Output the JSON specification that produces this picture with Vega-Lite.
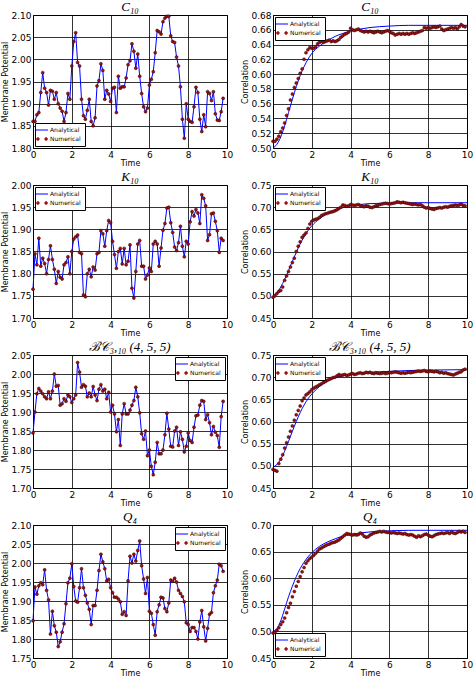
{
"$schema":"https://vega.github.io/schema/vega-lite/v6.json",
"padding":{"left":1,"top":0,"right":0,"bottom":0},
"background":"white",
"config":{
 "font":"DejaVu Sans",
 "view":{"stroke":"#000","strokeWidth":1},
 "axis":{"grid":true,"gridColor":"#000","gridOpacity":1,"gridWidth":0.8,"domain":false,"ticks":false,"labelFont":"DejaVu Sans","labelFontSize":9,"labelColor":"#000","titleFont":"DejaVu Sans","titleFontSize":8,"titleFontWeight":"normal","titleColor":"#000","labelPadding":2,"labelFlush":false,"labelOverlap":false,"tickCount":100},
 "axisX":{"titlePadding":0},
 "axisY":{"titlePadding":1},
 "title":{"font":"Liberation Serif","fontStyle":"italic","fontSize":13,"fontWeight":"normal","offset":-3,"color":"#000"},
 "legend":{"fillColor":"#fff","strokeColor":"#000","padding":4,"offset":2,"labelFont":"DejaVu Sans","labelFontSize":6,"labelColor":"#000","symbolSize":150,"rowPadding":3,"labelOffset":5,"cornerRadius":0}
},
"datasets":{
"left":[
{"t":0,"c":1.86,"k":1.765,"b":1.845,"q":1.848},
{"t":0.1,"c":1.86,"k":1.845,"b":1.90,"q":1.937},
{"t":0.2,"c":1.875,"k":1.82,"b":1.948,"q":1.918},
{"t":0.3,"c":1.88,"k":1.88,"b":1.962,"q":1.94},
{"t":0.4,"c":1.925,"k":1.817,"b":1.955,"q":1.948},
{"t":0.5,"c":1.97,"k":1.835,"b":1.948,"q":1.943},
{"t":0.6,"c":1.935,"k":1.823,"b":1.94,"q":1.982},
{"t":0.7,"c":1.925,"k":1.80,"b":1.935,"q":1.928},
{"t":0.8,"c":1.897,"k":1.832,"b":1.953,"q":1.903},
{"t":0.9,"c":1.93,"k":1.863,"b":1.935,"q":1.813},
{"t":1.0,"c":1.928,"k":1.832,"b":1.955,"q":1.873},
{"t":1.1,"c":1.91,"k":1.81,"b":2.00,"q":1.835},
{"t":1.2,"c":1.925,"k":1.778,"b":1.968,"q":1.818},
{"t":1.3,"c":1.90,"k":1.805,"b":1.97,"q":1.78},
{"t":1.4,"c":1.89,"k":1.792,"b":1.918,"q":1.793},
{"t":1.5,"c":1.883,"k":1.788,"b":1.922,"q":1.818},
{"t":1.6,"c":1.86,"k":1.82,"b":1.935,"q":1.84},
{"t":1.7,"c":1.88,"k":1.825,"b":1.928,"q":1.893},
{"t":1.8,"c":1.923,"k":1.838,"b":1.945,"q":1.948},
{"t":1.9,"c":1.91,"k":1.80,"b":1.94,"q":1.96},
{"t":2.0,"c":1.985,"k":1.85,"b":1.925,"q":1.998},
{"t":2.1,"c":2.04,"k":1.878,"b":1.935,"q":1.938},
{"t":2.2,"c":2.06,"k":1.883,"b":1.945,"q":1.90},
{"t":2.3,"c":1.993,"k":1.887,"b":2.03,"q":1.897},
{"t":2.4,"c":1.985,"k":1.848,"b":2.005,"q":1.935},
{"t":2.5,"c":1.91,"k":1.845,"b":1.965,"q":1.985},
{"t":2.6,"c":1.873,"k":1.752,"b":1.972,"q":1.935},
{"t":2.7,"c":1.865,"k":1.748,"b":1.968,"q":1.915},
{"t":2.8,"c":1.885,"k":1.80,"b":1.94,"q":1.895},
{"t":2.9,"c":1.91,"k":1.81,"b":1.95,"q":1.878},
{"t":3.0,"c":1.86,"k":1.793,"b":1.94,"q":1.838},
{"t":3.1,"c":1.85,"k":1.815,"b":1.967,"q":1.888},
{"t":3.2,"c":1.868,"k":1.808,"b":1.945,"q":1.888},
{"t":3.3,"c":1.94,"k":1.845,"b":1.93,"q":1.928},
{"t":3.4,"c":1.952,"k":1.848,"b":1.96,"q":1.98},
{"t":3.5,"c":1.99,"k":1.897,"b":1.972,"q":2.023},
{"t":3.6,"c":1.975,"k":1.89,"b":1.955,"q":2.003},
{"t":3.7,"c":1.91,"k":1.862,"b":1.96,"q":1.985},
{"t":3.8,"c":1.93,"k":1.897,"b":1.935,"q":1.953},
{"t":3.9,"c":1.922,"k":1.92,"b":1.952,"q":1.957},
{"t":4.0,"c":1.905,"k":1.915,"b":1.90,"q":1.935},
{"t":4.1,"c":1.935,"k":1.873,"b":1.918,"q":1.922},
{"t":4.2,"c":1.937,"k":1.843,"b":1.895,"q":1.91},
{"t":4.3,"c":1.88,"k":1.812,"b":1.848,"q":1.91},
{"t":4.4,"c":1.962,"k":1.85,"b":1.88,"q":1.905},
{"t":4.5,"c":1.935,"k":1.857,"b":1.812,"q":1.898},
{"t":4.6,"c":1.938,"k":1.822,"b":1.895,"q":1.865},
{"t":4.7,"c":1.938,"k":1.857,"b":1.922,"q":1.872},
{"t":4.8,"c":1.958,"k":1.82,"b":1.895,"q":1.862},
{"t":4.9,"c":1.988,"k":1.828,"b":1.895,"q":1.953},
{"t":5.0,"c":1.997,"k":1.865,"b":1.905,"q":2.018},
{"t":5.1,"c":2.035,"k":1.767,"b":1.918,"q":2.0},
{"t":5.2,"c":2.018,"k":1.745,"b":1.93,"q":2.023},
{"t":5.3,"c":1.98,"k":1.805,"b":1.965,"q":2.005},
{"t":5.4,"c":2.012,"k":1.867,"b":1.94,"q":2.033},
{"t":5.5,"c":1.962,"k":1.875,"b":1.898,"q":2.058},
{"t":5.6,"c":1.923,"k":1.817,"b":1.843,"q":1.993},
{"t":5.7,"c":1.893,"k":1.817,"b":1.828,"q":1.958},
{"t":5.8,"c":1.882,"k":1.788,"b":1.85,"q":1.92},
{"t":5.9,"c":1.89,"k":1.797,"b":1.785,"q":1.962},
{"t":6.0,"c":1.942,"k":1.813,"b":1.80,"q":1.873},
{"t":6.1,"c":1.955,"k":1.805,"b":1.757,"q":1.868},
{"t":6.2,"c":1.972,"k":1.867,"b":1.735,"q":1.838},
{"t":6.3,"c":2.015,"k":1.873,"b":1.768,"q":1.81},
{"t":6.4,"c":2.065,"k":1.867,"b":1.82,"q":1.872},
{"t":6.5,"c":2.062,"k":1.817,"b":1.79,"q":1.89},
{"t":6.6,"c":2.057,"k":1.858,"b":1.79,"q":1.91},
{"t":6.7,"c":2.085,"k":1.898,"b":1.80,"q":1.908},
{"t":6.8,"c":2.093,"k":1.913,"b":1.84,"q":1.88},
{"t":6.9,"c":2.097,"k":1.948,"b":1.897,"q":1.872},
{"t":7.0,"c":2.097,"k":1.95,"b":1.855,"q":1.895},
{"t":7.1,"c":2.053,"k":1.915,"b":1.81,"q":1.955},
{"t":7.2,"c":2.04,"k":1.893,"b":1.808,"q":1.952},
{"t":7.3,"c":2.038,"k":1.86,"b":1.85,"q":1.96},
{"t":7.4,"c":2.005,"k":1.852,"b":1.86,"q":1.95},
{"t":7.5,"c":1.985,"k":1.87,"b":1.812,"q":1.928},
{"t":7.6,"c":1.938,"k":1.907,"b":1.848,"q":1.92},
{"t":7.7,"c":1.865,"k":1.862,"b":1.828,"q":1.912},
{"t":7.8,"c":1.822,"k":1.838,"b":1.795,"q":1.898},
{"t":7.9,"c":1.90,"k":1.873,"b":1.81,"q":1.843},
{"t":8.0,"c":1.865,"k":1.867,"b":1.845,"q":1.838},
{"t":8.1,"c":1.86,"k":1.917,"b":1.825,"q":1.82},
{"t":8.2,"c":1.858,"k":1.94,"b":1.82,"q":1.83},
{"t":8.3,"c":1.893,"k":1.93,"b":1.86,"q":1.83},
{"t":8.4,"c":1.937,"k":1.945,"b":1.89,"q":1.82},
{"t":8.5,"c":1.925,"k":1.937,"b":1.892,"q":1.80},
{"t":8.6,"c":1.865,"k":1.913,"b":1.918,"q":1.845},
{"t":8.7,"c":1.837,"k":1.978,"b":1.93,"q":1.875},
{"t":8.8,"c":1.875,"k":1.97,"b":1.928,"q":1.832},
{"t":8.9,"c":1.848,"k":1.953,"b":1.88,"q":1.795},
{"t":9.0,"c":1.927,"k":1.875,"b":1.893,"q":1.828},
{"t":9.1,"c":1.923,"k":1.888,"b":1.872,"q":1.865},
{"t":9.2,"c":1.907,"k":1.935,"b":1.84,"q":1.87},
{"t":9.3,"c":1.927,"k":1.937,"b":1.862,"q":1.922},
{"t":9.4,"c":1.877,"k":1.918,"b":1.847,"q":1.94},
{"t":9.5,"c":1.863,"k":1.897,"b":1.838,"q":1.955},
{"t":9.6,"c":1.862,"k":1.848,"b":1.807,"q":1.997},
{"t":9.7,"c":1.882,"k":1.88,"b":1.888,"q":1.993},
{"t":9.8,"c":1.912,"k":1.875,"b":1.928,"q":1.978}
],
"right":[
{"t":0,"c":0.509,"k":0.497,"b":0.492,"q":0.497},
{"t":0.1,"c":0.509,"k":0.500,"b":0.490,"q":0.498},
{"t":0.2,"c":0.512,"k":0.505,"b":0.488,"q":0.502},
{"t":0.3,"c":0.516,"k":0.510,"b":0.505,"q":0.507},
{"t":0.4,"c":0.522,"k":0.512,"b":0.515,"q":0.513},
{"t":0.5,"c":0.527,"k":0.520,"b":0.525,"q":0.518},
{"t":0.6,"c":0.534,"k":0.535,"b":0.540,"q":0.525},
{"t":0.7,"c":0.544,"k":0.545,"b":0.552,"q":0.535},
{"t":0.8,"c":0.553,"k":0.555,"b":0.565,"q":0.545},
{"t":0.9,"c":0.565,"k":0.565,"b":0.578,"q":0.553},
{"t":1.0,"c":0.573,"k":0.575,"b":0.590,"q":0.565},
{"t":1.1,"c":0.582,"k":0.585,"b":0.603,"q":0.575},
{"t":1.2,"c":0.588,"k":0.600,"b":0.615,"q":0.585},
{"t":1.3,"c":0.594,"k":0.612,"b":0.625,"q":0.594},
{"t":1.4,"c":0.601,"k":0.622,"b":0.635,"q":0.603},
{"t":1.5,"c":0.607,"k":0.632,"b":0.647,"q":0.612},
{"t":1.6,"c":0.620,"k":0.637,"b":0.653,"q":0.620},
{"t":1.7,"c":0.629,"k":0.642,"b":0.660,"q":0.628},
{"t":1.8,"c":0.633,"k":0.652,"b":0.663,"q":0.633},
{"t":1.9,"c":0.636,"k":0.662,"b":0.667,"q":0.637},
{"t":2.0,"c":0.635,"k":0.668,"b":0.672,"q":0.640},
{"t":2.1,"c":0.635,"k":0.671,"b":0.675,"q":0.643},
{"t":2.2,"c":0.637,"k":0.673,"b":0.678,"q":0.647},
{"t":2.3,"c":0.641,"k":0.674,"b":0.680,"q":0.651},
{"t":2.4,"c":0.643,"k":0.677,"b":0.683,"q":0.655},
{"t":2.5,"c":0.644,"k":0.681,"b":0.685,"q":0.657},
{"t":2.6,"c":0.643,"k":0.683,"b":0.688,"q":0.659},
{"t":2.7,"c":0.644,"k":0.685,"b":0.690,"q":0.661},
{"t":2.8,"c":0.645,"k":0.686,"b":0.693,"q":0.663},
{"t":2.9,"c":0.646,"k":0.688,"b":0.695,"q":0.664},
{"t":3.0,"c":0.644,"k":0.689,"b":0.697,"q":0.666},
{"t":3.1,"c":0.645,"k":0.690,"b":0.699,"q":0.667},
{"t":3.2,"c":0.644,"k":0.692,"b":0.700,"q":0.668},
{"t":3.3,"c":0.645,"k":0.694,"b":0.703,"q":0.670},
{"t":3.4,"c":0.647,"k":0.697,"b":0.706,"q":0.672},
{"t":3.5,"c":0.650,"k":0.700,"b":0.704,"q":0.675},
{"t":3.6,"c":0.652,"k":0.705,"b":0.705,"q":0.678},
{"t":3.7,"c":0.654,"k":0.704,"b":0.706,"q":0.681},
{"t":3.8,"c":0.655,"k":0.702,"b":0.704,"q":0.684},
{"t":3.9,"c":0.657,"k":0.703,"b":0.705,"q":0.683},
{"t":4.0,"c":0.662,"k":0.706,"b":0.707,"q":0.682},
{"t":4.1,"c":0.660,"k":0.705,"b":0.708,"q":0.681},
{"t":4.2,"c":0.659,"k":0.704,"b":0.706,"q":0.682},
{"t":4.3,"c":0.660,"k":0.705,"b":0.707,"q":0.681},
{"t":4.4,"c":0.661,"k":0.706,"b":0.709,"q":0.682},
{"t":4.5,"c":0.659,"k":0.704,"b":0.710,"q":0.685},
{"t":4.6,"c":0.658,"k":0.702,"b":0.708,"q":0.683},
{"t":4.7,"c":0.657,"k":0.701,"b":0.709,"q":0.679},
{"t":4.8,"c":0.658,"k":0.703,"b":0.711,"q":0.677},
{"t":4.9,"c":0.657,"k":0.702,"b":0.710,"q":0.678},
{"t":5.0,"c":0.658,"k":0.700,"b":0.711,"q":0.681},
{"t":5.1,"c":0.657,"k":0.699,"b":0.709,"q":0.683},
{"t":5.2,"c":0.656,"k":0.701,"b":0.708,"q":0.685},
{"t":5.3,"c":0.657,"k":0.703,"b":0.710,"q":0.686},
{"t":5.4,"c":0.658,"k":0.704,"b":0.709,"q":0.687},
{"t":5.5,"c":0.657,"k":0.706,"b":0.708,"q":0.688},
{"t":5.6,"c":0.656,"k":0.707,"b":0.709,"q":0.687},
{"t":5.7,"c":0.657,"k":0.708,"b":0.710,"q":0.688},
{"t":5.8,"c":0.658,"k":0.709,"b":0.708,"q":0.687},
{"t":5.9,"c":0.659,"k":0.708,"b":0.709,"q":0.686},
{"t":6.0,"c":0.658,"k":0.707,"b":0.711,"q":0.686},
{"t":6.1,"c":0.656,"k":0.708,"b":0.710,"q":0.685},
{"t":6.2,"c":0.655,"k":0.709,"b":0.711,"q":0.686},
{"t":6.3,"c":0.653,"k":0.710,"b":0.712,"q":0.685},
{"t":6.4,"c":0.654,"k":0.712,"b":0.711,"q":0.684},
{"t":6.5,"c":0.655,"k":0.711,"b":0.710,"q":0.685},
{"t":6.6,"c":0.654,"k":0.710,"b":0.709,"q":0.684},
{"t":6.7,"c":0.655,"k":0.711,"b":0.710,"q":0.683},
{"t":6.8,"c":0.654,"k":0.710,"b":0.709,"q":0.684},
{"t":6.9,"c":0.655,"k":0.709,"b":0.710,"q":0.682},
{"t":7.0,"c":0.654,"k":0.708,"b":0.711,"q":0.681},
{"t":7.1,"c":0.655,"k":0.707,"b":0.710,"q":0.682},
{"t":7.2,"c":0.656,"k":0.706,"b":0.711,"q":0.681},
{"t":7.3,"c":0.655,"k":0.707,"b":0.712,"q":0.679},
{"t":7.4,"c":0.656,"k":0.706,"b":0.713,"q":0.677},
{"t":7.5,"c":0.657,"k":0.705,"b":0.714,"q":0.680},
{"t":7.6,"c":0.658,"k":0.706,"b":0.713,"q":0.678},
{"t":7.7,"c":0.659,"k":0.703,"b":0.714,"q":0.680},
{"t":7.8,"c":0.663,"k":0.700,"b":0.715,"q":0.682},
{"t":7.9,"c":0.662,"k":0.698,"b":0.713,"q":0.683},
{"t":8.0,"c":0.663,"k":0.699,"b":0.712,"q":0.681},
{"t":8.1,"c":0.662,"k":0.697,"b":0.714,"q":0.679},
{"t":8.2,"c":0.663,"k":0.696,"b":0.713,"q":0.678},
{"t":8.3,"c":0.664,"k":0.695,"b":0.712,"q":0.680},
{"t":8.4,"c":0.663,"k":0.697,"b":0.713,"q":0.682},
{"t":8.5,"c":0.664,"k":0.698,"b":0.712,"q":0.683},
{"t":8.6,"c":0.665,"k":0.699,"b":0.710,"q":0.684},
{"t":8.7,"c":0.661,"k":0.698,"b":0.711,"q":0.685},
{"t":8.8,"c":0.659,"k":0.700,"b":0.709,"q":0.684},
{"t":8.9,"c":0.660,"k":0.701,"b":0.710,"q":0.685},
{"t":9.0,"c":0.661,"k":0.700,"b":0.708,"q":0.686},
{"t":9.1,"c":0.662,"k":0.702,"b":0.707,"q":0.684},
{"t":9.2,"c":0.663,"k":0.703,"b":0.706,"q":0.687},
{"t":9.3,"c":0.662,"k":0.704,"b":0.705,"q":0.685},
{"t":9.4,"c":0.663,"k":0.705,"b":0.707,"q":0.684},
{"t":9.5,"c":0.661,"k":0.704,"b":0.709,"q":0.686},
{"t":9.6,"c":0.664,"k":0.705,"b":0.711,"q":0.688},
{"t":9.7,"c":0.667,"k":0.707,"b":0.712,"q":0.687},
{"t":9.8,"c":0.665,"k":0.704,"b":0.716,"q":0.688},
{"t":9.9,"c":0.664,"k":0.703,"b":0.718,"q":0.686}
],
"ana":[
{"t":0,"c":0.500,"k":0.500,"b":0.497,"q":0.500},
{"t":0.2,"c":0.505,"k":0.507,"b":0.503,"q":0.505},
{"t":0.4,"c":0.515,"k":0.520,"b":0.515,"q":0.520},
{"t":0.6,"c":0.530,"k":0.537,"b":0.533,"q":0.542},
{"t":0.8,"c":0.548,"k":0.557,"b":0.555,"q":0.565},
{"t":1.0,"c":0.566,"k":0.578,"b":0.578,"q":0.585},
{"t":1.2,"c":0.583,"k":0.598,"b":0.600,"q":0.603},
{"t":1.4,"c":0.598,"k":0.617,"b":0.620,"q":0.618},
{"t":1.6,"c":0.610,"k":0.633,"b":0.637,"q":0.630},
{"t":1.8,"c":0.620,"k":0.647,"b":0.651,"q":0.640},
{"t":2.0,"c":0.628,"k":0.658,"b":0.662,"q":0.648},
{"t":2.4,"c":0.638,"k":0.674,"b":0.679,"q":0.660},
{"t":2.8,"c":0.645,"k":0.686,"b":0.691,"q":0.668},
{"t":3.2,"c":0.651,"k":0.694,"b":0.699,"q":0.674},
{"t":3.6,"c":0.655,"k":0.699,"b":0.703,"q":0.679},
{"t":4.0,"c":0.658,"k":0.703,"b":0.706,"q":0.682},
{"t":4.5,"c":0.661,"k":0.706,"b":0.709,"q":0.685},
{"t":5.0,"c":0.663,"k":0.708,"b":0.711,"q":0.687},
{"t":6.0,"c":0.665,"k":0.709,"b":0.713,"q":0.689},
{"t":7.0,"c":0.666,"k":0.710,"b":0.715,"q":0.690},
{"t":8.0,"c":0.666,"k":0.710,"b":0.716,"q":0.690},
{"t":10.0,"c":0.666,"k":0.710,"b":0.717,"q":0.690}
]
},
"columns":2,
"spacing":{"row":37,"column":46},
"bounds":"flush",
"resolve":{"scale":{"x":"independent","y":"independent","color":"independent"},"legend":{"color":"independent"}},
"concat":[
 {"width":194,"height":133,"title":"C₁₀","data":{"name":"left"},
  "layer":[
   {"mark":{"type":"line","strokeWidth":1},"encoding":{
     "x":{"field":"t","type":"quantitative","scale":{"domain":[0,10]},"axis":{"values":[0,2,4,6,8,10],"tickCount":100,"format":"d","title":"Time"}},
     "y":{"field":"c","type":"quantitative","scale":{"domain":[1.8,2.1],"nice":false,"zero":false},"axis":{"values":[1.8,1.85,1.9,1.95,2.0,2.05,2.1],"tickCount":100,"format":".2f","title":"Membrane Potential"}},
     "color":{"datum":"Analytical","type":"nominal","scale":{"domain":["Analytical","Numerical"],"range":["#0000ff","#a01010"]},
      "legend":{"title":null,"orient":"bottom-left","encode":{"symbols":{"update":{"shape":{"signal":"datum.value === 'Analytical' ? 'stroke' : 'M-0.92,0a0.25,0.25 0 1,0 0.5,0a0.25,0.25 0 1,0 -0.5,0M0.42,0a0.25,0.25 0 1,0 0.5,0a0.25,0.25 0 1,0 -0.5,0'"},"fill":{"signal":"datum.value === 'Analytical' ? 'transparent' : '#a01010'"},"stroke":{"signal":"datum.value === 'Analytical' ? '#0000ff' : '#300000'"},"strokeWidth":{"signal":"datum.value === 'Analytical' ? 1 : 0.5"},"opacity":{"value":1}}}}}}}},
   {"mark":{"type":"point","filled":true,"size":9,"stroke":"#300000","strokeWidth":0.5,"opacity":1},"encoding":{
     "x":{"field":"t","type":"quantitative"},"y":{"field":"c","type":"quantitative"},
     "color":{"datum":"Numerical","type":"nominal"}}}
  ]},
 {"width":194,"height":133,"title":"C₁₀",
  "layer":[
   {"data":{"name":"ana"},"mark":{"type":"line","strokeWidth":1,"interpolate":"monotone"},"encoding":{
     "x":{"field":"t","type":"quantitative","scale":{"domain":[0,10]},"axis":{"values":[0,2,4,6,8,10],"tickCount":100,"format":"d","title":"Time"}},
     "y":{"field":"c","type":"quantitative","scale":{"domain":[0.5,0.68],"nice":false,"zero":false},"axis":{"values":[0.5,0.52,0.54,0.56,0.58,0.6,0.62,0.64,0.66,0.68],"tickCount":100,"format":".2f","title":"Correlation"}},
     "color":{"datum":"Analytical","type":"nominal","scale":{"domain":["Analytical","Numerical"],"range":["#0000ff","#a01010"]},
      "legend":{"title":null,"orient":"top-left","encode":{"symbols":{"update":{"shape":{"signal":"datum.value === 'Analytical' ? 'stroke' : 'M-0.92,0a0.25,0.25 0 1,0 0.5,0a0.25,0.25 0 1,0 -0.5,0M0.42,0a0.25,0.25 0 1,0 0.5,0a0.25,0.25 0 1,0 -0.5,0'"},"fill":{"signal":"datum.value === 'Analytical' ? 'transparent' : '#a01010'"},"stroke":{"signal":"datum.value === 'Analytical' ? '#0000ff' : '#300000'"},"strokeWidth":{"signal":"datum.value === 'Analytical' ? 1 : 0.5"},"opacity":{"value":1}}}}}}}},
   {"data":{"name":"right"},"mark":{"type":"point","filled":true,"size":9,"stroke":"#300000","strokeWidth":0.5,"opacity":1},"encoding":{
     "x":{"field":"t","type":"quantitative"},"y":{"field":"c","type":"quantitative"},
     "color":{"datum":"Numerical","type":"nominal"}}}
  ]},
 {"width":194,"height":133,"title":"K₁₀","data":{"name":"left"},
  "layer":[
   {"mark":{"type":"line","strokeWidth":1},"encoding":{
     "x":{"field":"t","type":"quantitative","scale":{"domain":[0,10]},"axis":{"values":[0,2,4,6,8,10],"tickCount":100,"format":"d","title":"Time"}},
     "y":{"field":"k","type":"quantitative","scale":{"domain":[1.7,2.0],"nice":false,"zero":false},"axis":{"values":[1.7,1.75,1.8,1.85,1.9,1.95,2.0],"tickCount":100,"format":".2f","title":"Membrane Potential"}},
     "color":{"datum":"Analytical","type":"nominal","scale":{"domain":["Analytical","Numerical"],"range":["#0000ff","#a01010"]},
      "legend":{"title":null,"orient":"top-left","encode":{"symbols":{"update":{"shape":{"signal":"datum.value === 'Analytical' ? 'stroke' : 'M-0.92,0a0.25,0.25 0 1,0 0.5,0a0.25,0.25 0 1,0 -0.5,0M0.42,0a0.25,0.25 0 1,0 0.5,0a0.25,0.25 0 1,0 -0.5,0'"},"fill":{"signal":"datum.value === 'Analytical' ? 'transparent' : '#a01010'"},"stroke":{"signal":"datum.value === 'Analytical' ? '#0000ff' : '#300000'"},"strokeWidth":{"signal":"datum.value === 'Analytical' ? 1 : 0.5"},"opacity":{"value":1}}}}}}}},
   {"mark":{"type":"point","filled":true,"size":9,"stroke":"#300000","strokeWidth":0.5,"opacity":1},"encoding":{
     "x":{"field":"t","type":"quantitative"},"y":{"field":"k","type":"quantitative"},
     "color":{"datum":"Numerical","type":"nominal"}}}
  ]},
 {"width":194,"height":133,"title":"K₁₀",
  "layer":[
   {"data":{"name":"ana"},"mark":{"type":"line","strokeWidth":1,"interpolate":"monotone"},"encoding":{
     "x":{"field":"t","type":"quantitative","scale":{"domain":[0,10]},"axis":{"values":[0,2,4,6,8,10],"tickCount":100,"format":"d","title":"Time"}},
     "y":{"field":"k","type":"quantitative","scale":{"domain":[0.45,0.75],"nice":false,"zero":false},"axis":{"values":[0.45,0.5,0.55,0.6,0.65,0.7,0.75],"tickCount":100,"format":".2f","title":"Correlation"}},
     "color":{"datum":"Analytical","type":"nominal","scale":{"domain":["Analytical","Numerical"],"range":["#0000ff","#a01010"]},
      "legend":{"title":null,"orient":"top-left","encode":{"symbols":{"update":{"shape":{"signal":"datum.value === 'Analytical' ? 'stroke' : 'M-0.92,0a0.25,0.25 0 1,0 0.5,0a0.25,0.25 0 1,0 -0.5,0M0.42,0a0.25,0.25 0 1,0 0.5,0a0.25,0.25 0 1,0 -0.5,0'"},"fill":{"signal":"datum.value === 'Analytical' ? 'transparent' : '#a01010'"},"stroke":{"signal":"datum.value === 'Analytical' ? '#0000ff' : '#300000'"},"strokeWidth":{"signal":"datum.value === 'Analytical' ? 1 : 0.5"},"opacity":{"value":1}}}}}}}},
   {"data":{"name":"right"},"mark":{"type":"point","filled":true,"size":9,"stroke":"#300000","strokeWidth":0.5,"opacity":1},"encoding":{
     "x":{"field":"t","type":"quantitative"},"y":{"field":"k","type":"quantitative"},
     "color":{"datum":"Numerical","type":"nominal"}}}
  ]},
 {"width":194,"height":133,"title":"ℬ𝒞₃,₁₀ (4, 5, 5)","data":{"name":"left"},
  "layer":[
   {"mark":{"type":"line","strokeWidth":1},"encoding":{
     "x":{"field":"t","type":"quantitative","scale":{"domain":[0,10]},"axis":{"values":[0,2,4,6,8,10],"tickCount":100,"format":"d","title":"Time"}},
     "y":{"field":"b","type":"quantitative","scale":{"domain":[1.7,2.05],"nice":false,"zero":false},"axis":{"values":[1.7,1.75,1.8,1.85,1.9,1.95,2.0,2.05],"tickCount":100,"format":".2f","title":"Membrane Potential"}},
     "color":{"datum":"Analytical","type":"nominal","scale":{"domain":["Analytical","Numerical"],"range":["#0000ff","#a01010"]},
      "legend":{"title":null,"orient":"top-right","encode":{"symbols":{"update":{"shape":{"signal":"datum.value === 'Analytical' ? 'stroke' : 'M-0.92,0a0.25,0.25 0 1,0 0.5,0a0.25,0.25 0 1,0 -0.5,0M0.42,0a0.25,0.25 0 1,0 0.5,0a0.25,0.25 0 1,0 -0.5,0'"},"fill":{"signal":"datum.value === 'Analytical' ? 'transparent' : '#a01010'"},"stroke":{"signal":"datum.value === 'Analytical' ? '#0000ff' : '#300000'"},"strokeWidth":{"signal":"datum.value === 'Analytical' ? 1 : 0.5"},"opacity":{"value":1}}}}}}}},
   {"mark":{"type":"point","filled":true,"size":9,"stroke":"#300000","strokeWidth":0.5,"opacity":1},"encoding":{
     "x":{"field":"t","type":"quantitative"},"y":{"field":"b","type":"quantitative"},
     "color":{"datum":"Numerical","type":"nominal"}}}
  ]},
 {"width":194,"height":133,"title":"ℬ𝒞₃,₁₀ (4, 5, 5)",
  "layer":[
   {"data":{"name":"ana"},"mark":{"type":"line","strokeWidth":1,"interpolate":"monotone"},"encoding":{
     "x":{"field":"t","type":"quantitative","scale":{"domain":[0,10]},"axis":{"values":[0,2,4,6,8,10],"tickCount":100,"format":"d","title":"Time"}},
     "y":{"field":"b","type":"quantitative","scale":{"domain":[0.45,0.75],"nice":false,"zero":false},"axis":{"values":[0.45,0.5,0.55,0.6,0.65,0.7,0.75],"tickCount":100,"format":".2f","title":"Correlation"}},
     "color":{"datum":"Analytical","type":"nominal","scale":{"domain":["Analytical","Numerical"],"range":["#0000ff","#a01010"]},
      "legend":{"title":null,"orient":"top-left","encode":{"symbols":{"update":{"shape":{"signal":"datum.value === 'Analytical' ? 'stroke' : 'M-0.92,0a0.25,0.25 0 1,0 0.5,0a0.25,0.25 0 1,0 -0.5,0M0.42,0a0.25,0.25 0 1,0 0.5,0a0.25,0.25 0 1,0 -0.5,0'"},"fill":{"signal":"datum.value === 'Analytical' ? 'transparent' : '#a01010'"},"stroke":{"signal":"datum.value === 'Analytical' ? '#0000ff' : '#300000'"},"strokeWidth":{"signal":"datum.value === 'Analytical' ? 1 : 0.5"},"opacity":{"value":1}}}}}}}},
   {"data":{"name":"right"},"mark":{"type":"point","filled":true,"size":9,"stroke":"#300000","strokeWidth":0.5,"opacity":1},"encoding":{
     "x":{"field":"t","type":"quantitative"},"y":{"field":"b","type":"quantitative"},
     "color":{"datum":"Numerical","type":"nominal"}}}
  ]},
 {"width":194,"height":133,"title":"Q₄","data":{"name":"left"},
  "layer":[
   {"mark":{"type":"line","strokeWidth":1},"encoding":{
     "x":{"field":"t","type":"quantitative","scale":{"domain":[0,10]},"axis":{"values":[0,2,4,6,8,10],"tickCount":100,"format":"d","title":"Time"}},
     "y":{"field":"q","type":"quantitative","scale":{"domain":[1.75,2.1],"nice":false,"zero":false},"axis":{"values":[1.75,1.8,1.85,1.9,1.95,2.0,2.05,2.1],"tickCount":100,"format":".2f","title":"Membrane Potential"}},
     "color":{"datum":"Analytical","type":"nominal","scale":{"domain":["Analytical","Numerical"],"range":["#0000ff","#a01010"]},
      "legend":{"title":null,"orient":"top-right","encode":{"symbols":{"update":{"shape":{"signal":"datum.value === 'Analytical' ? 'stroke' : 'M-0.92,0a0.25,0.25 0 1,0 0.5,0a0.25,0.25 0 1,0 -0.5,0M0.42,0a0.25,0.25 0 1,0 0.5,0a0.25,0.25 0 1,0 -0.5,0'"},"fill":{"signal":"datum.value === 'Analytical' ? 'transparent' : '#a01010'"},"stroke":{"signal":"datum.value === 'Analytical' ? '#0000ff' : '#300000'"},"strokeWidth":{"signal":"datum.value === 'Analytical' ? 1 : 0.5"},"opacity":{"value":1}}}}}}}},
   {"mark":{"type":"point","filled":true,"size":9,"stroke":"#300000","strokeWidth":0.5,"opacity":1},"encoding":{
     "x":{"field":"t","type":"quantitative"},"y":{"field":"q","type":"quantitative"},
     "color":{"datum":"Numerical","type":"nominal"}}}
  ]},
 {"width":194,"height":133,"title":"Q₄",
  "layer":[
   {"data":{"name":"ana"},"mark":{"type":"line","strokeWidth":1,"interpolate":"monotone"},"encoding":{
     "x":{"field":"t","type":"quantitative","scale":{"domain":[0,10]},"axis":{"values":[0,2,4,6,8,10],"tickCount":100,"format":"d","title":"Time"}},
     "y":{"field":"q","type":"quantitative","scale":{"domain":[0.45,0.7],"nice":false,"zero":false},"axis":{"values":[0.45,0.5,0.55,0.6,0.65,0.7],"tickCount":100,"format":".2f","title":"Correlation"}},
     "color":{"datum":"Analytical","type":"nominal","scale":{"domain":["Analytical","Numerical"],"range":["#0000ff","#a01010"]},
      "legend":{"title":null,"orient":"bottom-left","encode":{"symbols":{"update":{"shape":{"signal":"datum.value === 'Analytical' ? 'stroke' : 'M-0.92,0a0.25,0.25 0 1,0 0.5,0a0.25,0.25 0 1,0 -0.5,0M0.42,0a0.25,0.25 0 1,0 0.5,0a0.25,0.25 0 1,0 -0.5,0'"},"fill":{"signal":"datum.value === 'Analytical' ? 'transparent' : '#a01010'"},"stroke":{"signal":"datum.value === 'Analytical' ? '#0000ff' : '#300000'"},"strokeWidth":{"signal":"datum.value === 'Analytical' ? 1 : 0.5"},"opacity":{"value":1}}}}}}}},
   {"data":{"name":"right"},"mark":{"type":"point","filled":true,"size":9,"stroke":"#300000","strokeWidth":0.5,"opacity":1},"encoding":{
     "x":{"field":"t","type":"quantitative"},"y":{"field":"q","type":"quantitative"},
     "color":{"datum":"Numerical","type":"nominal"}}}
  ]}
]
}
